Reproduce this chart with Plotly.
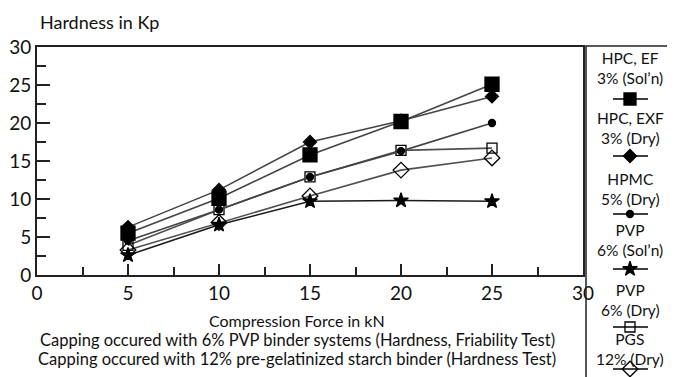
import plotly.graph_objects as go

# ---------------- data ----------------
force = [5, 10, 15, 20, 25]
hpc_ef = [5.5, 10.1, 15.8, 20.2, 25.1]
hpc_exf = [6.3, 11.2, 17.5, 20.3, 23.5]
hpmc = [4.5, 8.6, 12.9, 16.3, 20.0]
pvp_sol = [2.6, 6.6, 9.7, 9.8, 9.7]
pvp_dry = [3.9, 8.6, 12.9, 16.4, 16.7]
pgs_dry = [3.3, 6.9, 10.4, 13.8, 15.4]

legend_line1 = ["HPC, EF", "HPC, EXF", "HPMC", "PVP", "PVP", "PGS"]
legend_line2 = ["3% (Sol’n)", "3% (Dry)", "5% (Dry)", "6% (Sol’n)", "6% (Dry)", "12% (Dry)"]

y_title = "Hardness in Kp"
x_title = "Compression Force in kN"
notes = [
    "Capping occured with 6% PVP binder systems (Hardness, Friability Test)",
    "Capping occured with 12% pre-gelatinized starch binder (Hardness Test)",
]

# ---------------- styling ----------------
OFF = 8                      # page body margin offset
W, H = 675 - OFF, 377 - OFF  # figure size so the page fills the window
FONT = "Lato"


def px(v):
    """window pixel -> figure pixel"""
    return v - OFF


L, R, T, B = px(37), px(583), px(47), px(275)   # plot frame

styles = [
    # (values, symbol, size, linecolor)
    (pgs_dry, "diamond-open", 12, "#505050"),
    (pvp_dry, "square-open", 10, "#505050"),
    (hpmc, "circle", 7, "#444444"),
    (pvp_sol, "star", 11, "#1a1a1a"),
    (hpc_exf, "diamond", 10, "#444444"),
    (hpc_ef, "square", 14, "#444444"),
]
legend_style = [styles[5], styles[4], styles[2], styles[3], styles[1], styles[0]]

fig = go.Figure()

for vals, sym, size, lc in styles:
    fig.add_trace(go.Scatter(
        x=force, y=vals, mode="lines+markers",
        line=dict(color=lc, width=1.6),
        marker=dict(symbol=sym, size=size, color="black",
                    line=dict(color="black", width=1.3)),
        xaxis="x", yaxis="y", showlegend=False, hoverinfo="skip",
    ))

# legend (custom) on a pixel-coordinate overlay axis: (text centre, marker) rows
leg_rows = [(67.5, 99), (128, 156), (189, 214),
            (240, 269), (300, 327), (349, 369)]
LX = px(630)
annotations = []
for i, (yc, ym) in enumerate(leg_rows):
    vals, sym, size, lc = legend_style[i]
    fig.add_trace(go.Scatter(
        x=[px(613), px(648)], y=[px(ym), px(ym)], mode="lines",
        line=dict(color="black", width=1.5),
        xaxis="x2", yaxis="y2", showlegend=False, hoverinfo="skip",
    ))
    fig.add_trace(go.Scatter(
        x=[LX], y=[px(ym)], mode="markers",
        marker=dict(symbol=sym, size=min(size, 12), color="black",
                    line=dict(color="black", width=1.3)),
        xaxis="x2", yaxis="y2", showlegend=False, hoverinfo="skip",
    ))
    annotations.append(dict(x=LX, y=px(yc), xref="x2", yref="y2",
                            text=legend_line1[i] + "<br>" + legend_line2[i],
                            showarrow=False, xanchor="center", yanchor="middle",
                            font=dict(family=FONT, size=15.5, color="#111")))

annotations.append(dict(x=px(38), y=px(22), xref="x2", yref="y2", text=y_title,
                        showarrow=False, xanchor="left", yanchor="middle",
                        font=dict(family=FONT, size=18, color="#111")))
annotations.append(dict(x=px(297), y=px(320), xref="x2", yref="y2", text=x_title,
                        showarrow=False, xanchor="center", yanchor="middle",
                        font=dict(family=FONT, size=16, color="#111")))
for k, t in enumerate(notes):
    annotations.append(dict(x=px(297), y=px(340 + 19 * k), xref="x2", yref="y2", text=t,
                            showarrow=False, xanchor="center", yanchor="middle",
                            font=dict(family=FONT, size=16.5, color="#111")))

shapes = [
    # legend box
    dict(type="rect", xref="x2", yref="y2", x0=px(586), x1=px(700), y0=px(46), y1=px(420),
         line=dict(color="#222", width=1.5), fillcolor="rgba(0,0,0,0)", layer="below"),
]

fig.update_layout(
    width=W, height=H,
    margin=dict(l=0, r=0, t=0, b=0, autoexpand=False),
    paper_bgcolor="white", plot_bgcolor="rgba(0,0,0,0)",
    font=dict(family=FONT, color="#111"),
    annotations=annotations, shapes=shapes,
    xaxis=dict(
        domain=[L / W, R / W], range=[0, 30], tickmode="array", automargin=False,
        tickvals=[0, 5, 10, 15, 20, 25, 30],
        ticks="inside", ticklen=11, tickwidth=1.6, tickcolor="#222",
        minor=dict(tickvals=[2.5, 7.5, 12.5, 17.5, 22.5, 27.5], ticks="inside",
                   ticklen=8, tickwidth=1.6, tickcolor="#222"),
        showline=True, linecolor="#222", linewidth=2, mirror=True,
        showgrid=False, zeroline=False,
        tickfont=dict(family=FONT, size=19, color="#111"),
    ),
    yaxis=dict(
        domain=[(H - B) / H, (H - T) / H], range=[0, 30], tickmode="array", automargin=False,
        tickvals=[0, 5, 10, 15, 20, 25, 30],
        ticks="inside", ticklen=13, tickwidth=1.6, tickcolor="#222",
        minor=dict(tickvals=[2.5, 7.5, 12.5, 17.5, 22.5, 27.5], ticks="inside",
                   ticklen=9, tickwidth=1.6, tickcolor="#222"),
        showline=True, linecolor="#222", linewidth=2, mirror=True,
        showgrid=False, zeroline=False,
        tickfont=dict(family=FONT, size=19, color="#111"),
    ),
    xaxis2=dict(domain=[0, 1], range=[0, W], visible=False, anchor="y2",
                fixedrange=True, automargin=False),
    yaxis2=dict(domain=[0, 1], range=[H, 0], visible=False, anchor="x2",
                fixedrange=True, automargin=False),
)

fig.write_html("out.html")
